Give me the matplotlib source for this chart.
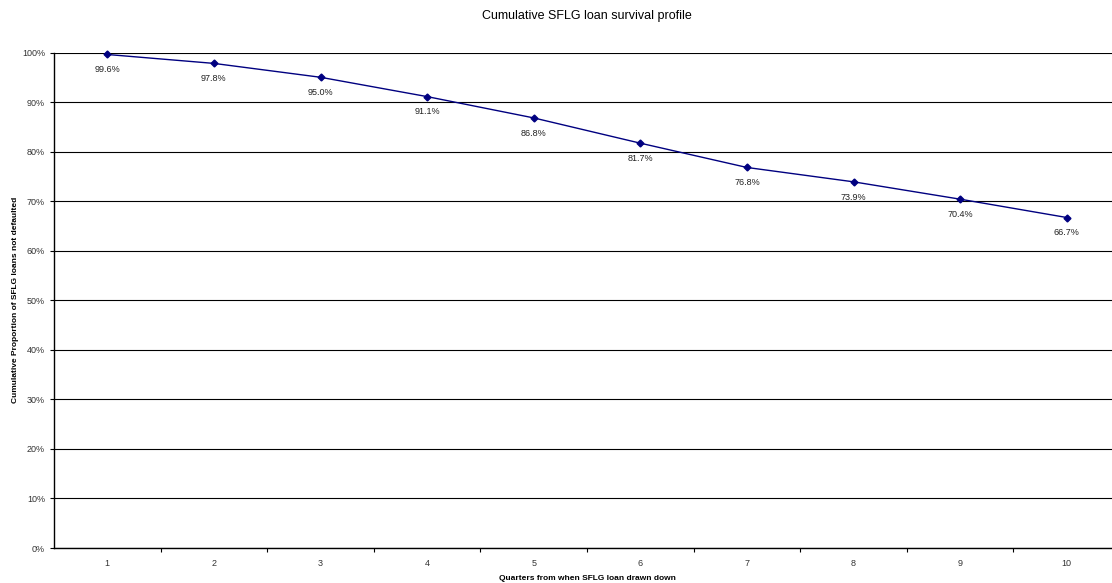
import matplotlib.pyplot as plt
from matplotlib.ticker import PercentFormatter, MultipleLocator

plt.rcParams['font.family'] = ['Liberation Sans', 'DejaVu Sans']

quarters = [1, 2, 3, 4, 5, 6, 7, 8, 9, 10]
survival = [99.6, 97.8, 95.0, 91.1, 86.8, 81.7, 76.8, 73.9, 70.4, 66.7]

fig = plt.figure(figsize=(11.12, 5.83), dpi=100)
ax = fig.add_axes([54 / 1112, 1 - 548 / 583, (1120 - 54) / 1112, (548 - 52.5) / 583])

ax.plot(quarters, survival, color="#000080", lw=1, marker="D", ms=3.5, clip_on=False)
for q, s in zip(quarters, survival):
    ax.annotate(f"{s:.1f}%", (q, s), xytext=(0, -11), textcoords="offset points",
                ha="center", va="center", fontsize=6.5, color="#222222")

ax.set_xlim(0.5, 10.5)
ax.set_ylim(0, 100)
ax.yaxis.set_major_locator(MultipleLocator(10))
ax.yaxis.set_major_formatter(PercentFormatter(decimals=0))
ax.grid(axis="y", color="black", lw=0.8)
ax.set_axisbelow(True)

ax.set_xticks(quarters)
ax.set_xticks([q + 0.5 for q in quarters[:-1]], minor=True)
ax.tick_params(axis="x", which="major", length=0, labelsize=6.5, pad=8, labelcolor="#333333")
ax.tick_params(axis="x", which="minor", length=3, width=0.8)
ax.tick_params(axis="y", length=3, width=0.8, labelsize=6.5, labelcolor="#333333")

for side in ["top", "right"]:
    ax.spines[side].set_visible(False)
for side in ["left", "bottom"]:
    ax.spines[side].set_linewidth(1)

ax.set_title("Cumulative SFLG loan survival profile", fontsize=9, pad=24)
ax.set_xlabel("Quarters from when SFLG loan drawn down", fontsize=6, fontweight="bold", labelpad=5)
ax.set_ylabel("Cumulative Proportion of SFLG loans not defaulted", fontsize=6, fontweight="bold", labelpad=2)

plt.savefig("out.png", dpi=100)
